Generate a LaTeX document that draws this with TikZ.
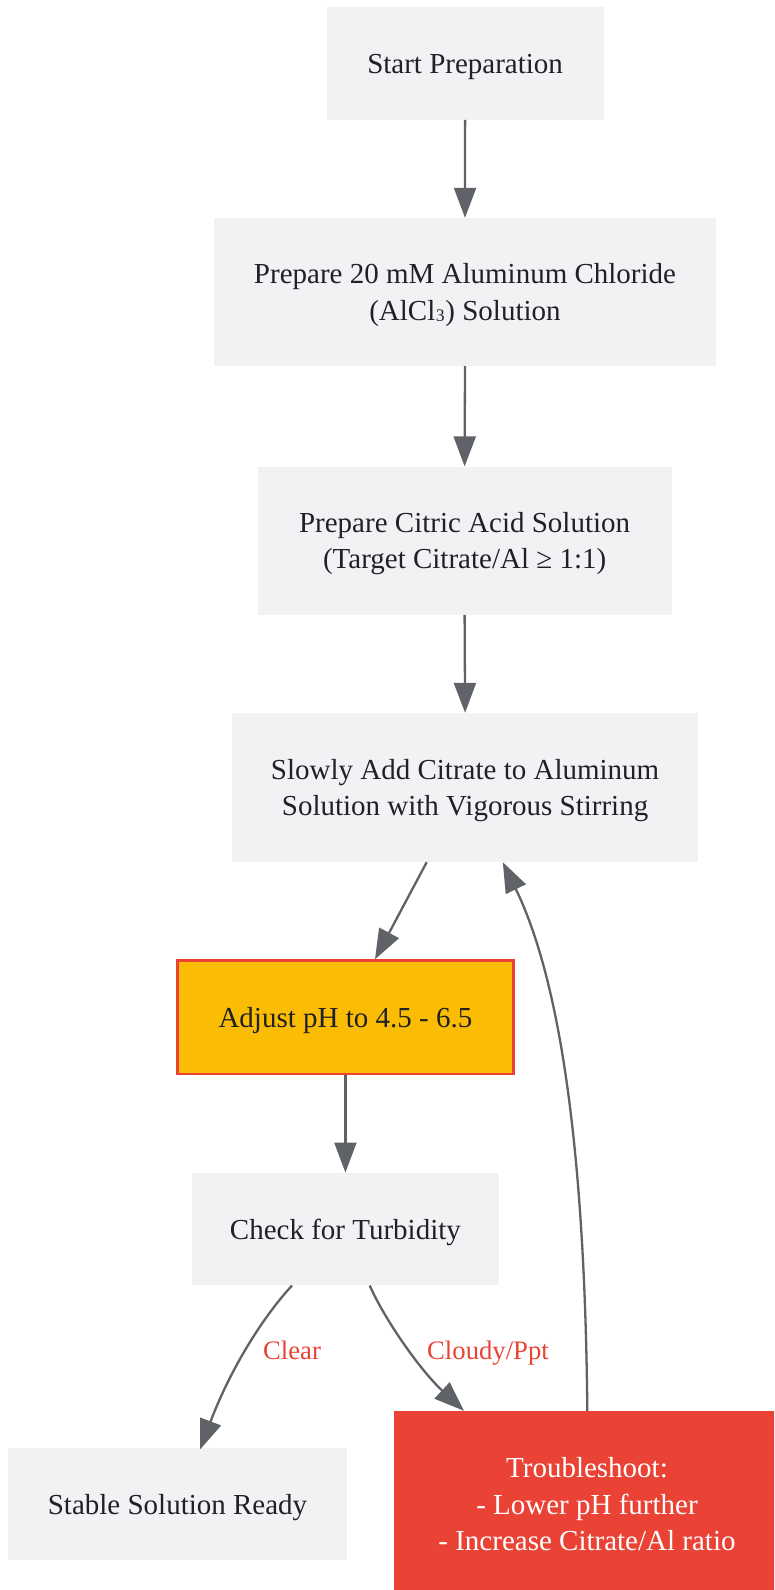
\documentclass[tikz,border=0pt]{standalone}
\usepackage{fontspec}
\setmainfont{Liberation Serif}
\usetikzlibrary{arrows.meta,calc}
\definecolor{boxgray}{HTML}{F1F2F4}
\definecolor{txtdark}{HTML}{202124}
\definecolor{edgegray}{HTML}{5F6368}
\definecolor{gorange}{HTML}{FBBC04}
\definecolor{gred}{HTML}{EA4335}
\tikzset{
  flowbox/.style={rectangle, fill=boxgray, draw=none, inner sep=0pt, align=center,
    text=txtdark, text depth=-3pt, font=\fontsize{29}{36.5}\selectfont},
  warnbox/.style={flowbox, fill=gorange, draw=gred, line width=2.5pt},
  errbox/.style={flowbox, fill=gred, text=white},
  flowedge/.style={draw=edgegray, line width=2.3pt, -{Triangle[length=30pt,width=22pt]}},
  edgelabel/.style={text=gred, inner sep=0pt, anchor=base, font=\fontsize{26.7}{32}\selectfont}
}
\begin{document}
\begin{tikzpicture}[x=1pt,y=-1pt]
\clip (0,0) rectangle (774,1590);
\fill[white] (0,0) rectangle (774,1590);
\node[flowbox, minimum width=277pt, minimum height=112.6pt] (start) at (465.1,63.4) {Start Preparation};
\node[flowbox, minimum width=502pt, minimum height=148pt] (prep) at (465,292) {Prepare 20 mM Aluminum Chloride\\(AlCl\raisebox{4.5pt}{₃}) Solution};
\node[flowbox, minimum width=414pt, minimum height=148pt] (citric) at (464.6,540.6) {Prepare Citric Acid Solution\\(Target Citrate/Al ≥ 1:1)};
\node[flowbox, minimum width=465.7pt, minimum height=149pt] (slowly) at (465.1,787.5) {Slowly Add Citrate to Aluminum\\Solution with Vigorous Stirring};
\node[warnbox, minimum width=335.8pt, minimum height=113.5pt] (adjust) at (345.4,1017.3) {Adjust pH to 4.5 - 6.5};
\node[flowbox, minimum width=307.3pt, minimum height=112.6pt] (check) at (345.4,1229) {Check for Turbidity};
\node[flowbox, minimum width=339pt, minimum height=112.6pt] (stable) at (177.5,1504) {Stable Solution Ready};
\node[errbox, minimum width=387pt, minimum height=186pt] (trouble) at (587,1504) {Troubleshoot:\\- Lower pH further\\- Increase Citrate/Al ratio};

\draw[flowedge] (start.south) -- (prep.north);
\draw[flowedge] (prep.south) -- (citric.north);
\draw[flowedge] (citric.south) -- (slowly.north);
\draw[flowedge] ($(slowly.south)+(-38.4,0)$) -- ($(adjust.north)+(29.6,0)$);
\draw[flowedge] (adjust.south) -- (check.north);
\draw[flowedge] ($(check.south)+(-53.4,0)$) .. controls (262,1318) and (230,1370) .. ($(stable.north)+(22.5,2)$);
\draw[flowedge] ($(check.south)+(24.3,0)$) .. controls (385,1320) and (420,1370) .. ($(trouble.north)+(-123,0)$);
\draw[flowedge] ($(trouble.north)+(0.3,0)$) .. controls (585,1150) and (560,980) .. ($(slowly.south)+(37.7,0)$);

\node[edgelabel] (lclear) at (292,1359) {Clear};
\node[edgelabel] (lcloudy) at (488,1359) {Cloudy/Ppt};
\end{tikzpicture}
\end{document}
